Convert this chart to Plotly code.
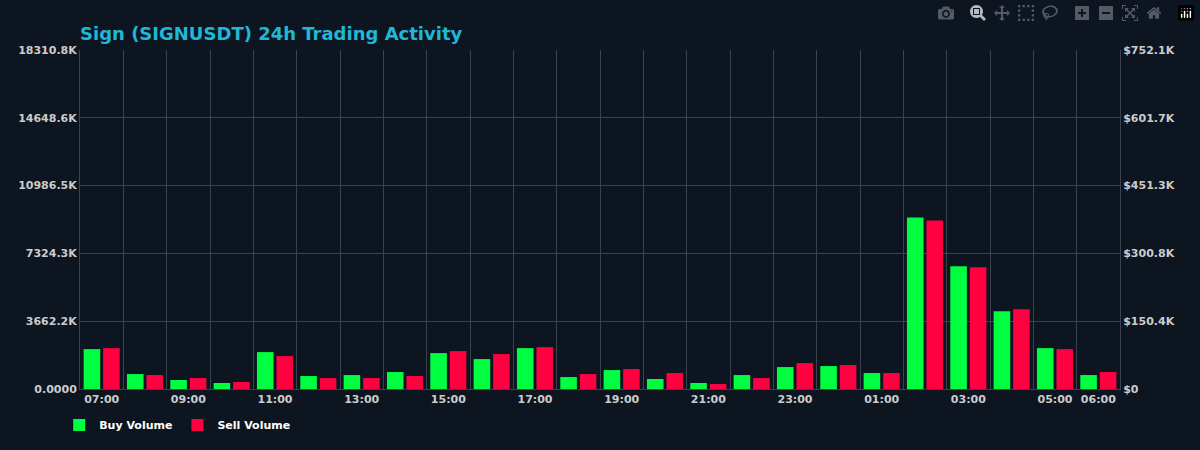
import plotly.graph_objects as go

hours = ["07:00","08:00","09:00","10:00","11:00","12:00","13:00","14:00","15:00","16:00","17:00","18:00",
         "19:00","20:00","21:00","22:00","23:00","00:00","01:00","02:00","03:00","04:00","05:00","06:00"]
buy = [2154,808,485,323,1993,700,754,916,1939,1616,2208,646,1023,539,323,754,1185,1239,862,9264,6625,4201,2208,754]
sell = [2208,754,592,377,1777,592,592,700,2047,1885,2262,808,1077,862,269,592,1400,1293,862,9102,6571,4309,2154,916]
left_ticks = [0,3662.2,7324.3,10986.5,14648.6,18310.8]
left_text = ["0.0000","3662.2K","7324.3K","10986.5K","14648.6K","18310.8K"]
right_max = 752.1
right_ticks = [0,150.4,300.8,451.3,601.7,752.1]
right_text = ["$0","$150.4K","$300.8K","$451.3K","$601.7K","$752.1K"]
label_hours = ["07:00","09:00","11:00","13:00","15:00","17:00","19:00","21:00","23:00","01:00","03:00","05:00","06:00"]

x = list(range(len(hours)))
fig = go.Figure()
fig.add_trace(go.Bar(x=x, y=buy, name="Buy Volume", marker_color="#00ff41", marker_line_width=0))
fig.add_trace(go.Bar(x=x, y=sell, name="Sell Volume", marker_color="#ff0040", marker_line_width=0))
fig.add_trace(go.Scatter(x=[x[0]], y=[0], yaxis="y2", showlegend=False, mode="markers",
                         marker_opacity=0, hoverinfo="skip"))
grid = "#3a4250"
tf = dict(size=11, color="#cccccc", family="DejaVu Sans", weight="bold")
fig.update_layout(
    width=1200, height=450, paper_bgcolor="#0d1520", plot_bgcolor="#0d1520",
    margin=dict(l=80, r=80, t=50, b=60),
    title=dict(text="<b>Sign (SIGNUSDT) 24h Trading Activity</b>", x=0.0667, xanchor="left", y=0.94,
               font=dict(color="#1fb8d6", size=18, family="DejaVu Sans")),
    font=dict(family="DejaVu Sans", color="#cccccc", size=11),
    barmode="group", bargap=0.1, bargroupgap=0.15,
    xaxis=dict(range=[-0.5, 23.5], tickvals=[hours.index(h) for h in label_hours], ticktext=label_hours,
               showgrid=False, zeroline=False, showline=True, linecolor=grid,
               minor=dict(tickvals=[i + 0.5 for i in x[:-1]], showgrid=True, gridcolor=grid, ticklen=0),
               tickfont=tf),
    yaxis=dict(range=[0, left_ticks[-1]], tickvals=left_ticks, ticktext=left_text, gridcolor=grid,
               zeroline=False, showline=True, linecolor=grid, tickfont=tf),
    yaxis2=dict(range=[0, right_max], tickvals=right_ticks, ticktext=right_text, overlaying="y", side="right",
                showgrid=False, zeroline=False, showline=True, linecolor=grid, tickfont=tf),
    legend=dict(orientation="h", x=-0.02, xanchor="left", y=-0.06, yanchor="top",
                font=dict(color="#ffffff", size=11, weight="bold")),
)
fig.write_html("out.html", post_script="document.body.style.margin='0';document.body.style.background='#0d1520';")
